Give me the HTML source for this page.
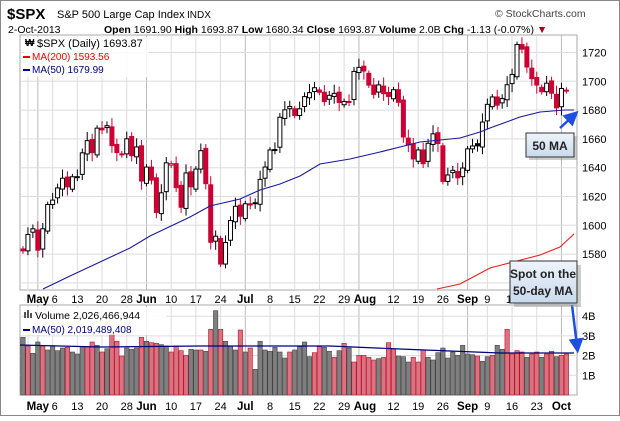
<!DOCTYPE html>
<html><head><meta charset="utf-8"><style>
html,body{margin:0;padding:0;background:#fff;}
body{width:620px;height:416px;overflow:hidden;font-family:"Liberation Sans",sans-serif;}
</style></head><body>
<svg id="s" width="620" height="416" xmlns="http://www.w3.org/2000/svg" font-family="Liberation Sans, sans-serif">
<defs>
<linearGradient id="cg" x1="0" y1="0" x2="0" y2="1"><stop offset="0" stop-color="#eef4fb"/><stop offset="1" stop-color="#c9d9ec"/></linearGradient>
<marker id="ah" markerWidth="6" markerHeight="6" refX="3" refY="3" orient="auto"><path d="M0,0 L6,3 L0,6 z" fill="#1f4fe0"/></marker>
</defs>
<rect x="0.5" y="0.5" width="619" height="415" fill="#fff" stroke="#888"/>
<text x="7" y="19" font-size="15" font-weight="bold">$SPX</text>
<text x="57" y="18" font-size="11">S&amp;P 500 Large Cap Index</text>
<text x="187" y="18" font-size="10">INDX</text>
<text x="495" y="17" font-size="10.5" fill="#444">© StockCharts.com</text>
<text x="8" y="33" font-size="10.5">2-Oct-2013</text>
<text x="104" y="33" font-size="10.5"><tspan font-weight="bold">Open</tspan> 1691.90 <tspan font-weight="bold">High</tspan> 1693.87 <tspan font-weight="bold">Low</tspan> 1680.34 <tspan font-weight="bold">Close</tspan> 1693.87 <tspan font-weight="bold">Volume</tspan> 2.0B <tspan font-weight="bold">Chg</tspan> -1.13 (-0.07%) <tspan fill="#a00020">▼</tspan></text>
<g id="g"></g>
</svg>
<script>
var C=[1582.24,1593.61,1597.57,1582.70,1597.59,1614.42,1617.50,1625.96,1632.69,1626.67,1633.70,1633.77,1650.34,1658.78,1650.47,1667.47,1666.29,1669.16,1655.35,1650.51,1649.60,1660.06,1648.36,1654.41,1630.74,
1640.42,1631.38,1608.90,1622.56,1643.38,1642.81,1626.13,1612.52,1636.36,1626.73,1639.04,1651.81,1628.93,1588.19,1592.43,1573.09,1588.03,1603.26,1613.20,1606.28,
1614.96,1614.08,1615.41,1631.89,1640.46,1652.32,1652.62,1675.02,1680.19,1682.50,1676.26,1680.91,1689.37,1692.09,1695.53,1692.39,1685.94,1690.25,1691.65,1685.33,1685.96,1685.73,
1706.87,1709.67,1707.14,1697.37,1690.91,1697.48,1691.42,1689.47,1694.16,1685.39,1661.32,1655.83,1646.06,1652.35,1642.80,1656.96,1663.50,1656.78,1630.48,1634.96,1638.17,1632.97,
1639.77,1653.08,1655.08,1655.17,1671.71,1683.99,1689.13,1683.42,1687.99,1697.60,1704.76,1725.52,1722.34,1709.91,1701.84,1697.42,1692.77,1698.67,1691.75,1681.55,1695.00,1693.87];
var V=[[172,'g'],[198,'r'],[220,'g'],[186,'g'],[198,'r'],[210,'g'],[198,'g'],[212,'g'],[204,'g'],[202,'r'],[216,'g'],[222,'g'],[200,'g'],[200,'r'],[186,'r'],[196,'g'],[216,'r'],[206,'g'],[162,'r'],[184,'r'],[228,'r'],[204,'g'],[208,'g'],[204,'g'],[172,'r'],[184,'g'],[188,'r'],[190,'r'],[194,'g'],[198,'g'],[216,'r'],[198,'r'],[212,'r'],[226,'r'],[208,'g'],[210,'g'],[210,'r'],[214,'g'],[148,'r'],[92,'g'],[148,'r'],[184,'g'],[198,'g'],[210,'g'],[150,'r'],[216,'g'],[204,'r'],[268,'g'],[184,'g'],[210,'g'],[214,'g'],[202,'g'],[216,'g'],[234,'g'],[216,'r'],[210,'g'],[200,'g'],[186,'g'],[230,'g'],[218,'r'],[200,'r'],[202,'g'],[214,'g'],[232,'r'],[212,'g'],[190,'r'],[204,'g'],[246,'r'],[226,'r'],[226,'r'],[232,'r'],[240,'r'],[236,'g'],[232,'r'],[188,'r'],[206,'r'],[228,'g'],[230,'g'],[246,'g'],[232,'r'],[246,'r'],[210,'r'],[232,'g'],[240,'g'],[218,'g'],[204,'g'],[234,'g'],[216,'g'],[226,'g'],[196,'g'],[222,'g'],[224,'g'],[228,'r'],[244,'g'],[230,'g'],[226,'r'],[196,'g'],[208,'g'],[148,'r'],[222,'r'],[212,'r'],[216,'r'],[232,'g'],[222,'r'],[216,'r'],[232,'g'],[222,'r'],[214,'r'],[230,'g'],[226,'r'],[222,'r']];
var g=document.getElementById('g'),h='';
function X(i){return 23+i*4.94;}
function Y(p){return 52.5+(1720-p)*1.44;}
function VY(z){return 394-(342-z)/3;}
var L=20,R=577,PT=35,PB=290,VT=305,VB=395;
h+='<rect x="'+L+'" y="'+PT+'" width="'+(R-L)+'" height="'+(PB-PT)+'" fill="#fff" stroke="#aaa"/>';
h+='<rect x="'+L+'" y="'+VT+'" width="'+(R-L)+'" height="'+(VB-VT)+'" fill="#fff" stroke="#aaa"/>';
var wk=[[1,''],[6,'6'],[11,'13'],[16,'20'],[21,'28'],[30,'10'],[35,'17'],[40,'24'],[50,'8'],[55,'15'],[60,'22'],[65,'29'],[75,'12'],[80,'19'],[85,'26'],[94,'9'],[99,'16'],[104,'23']];
var mo=[[3,'May'],[25,'Jun'],[45,'Jul'],[68,'Aug'],[90,'Sep'],[109,'Oct']];
wk.forEach(function(w){var x=X(w[0]);h+='<line x1="'+x+'" y1="'+PT+'" x2="'+x+'" y2="'+PB+'" stroke="#ddd"/><line x1="'+x+'" y1="'+VT+'" x2="'+x+'" y2="'+VB+'" stroke="#ddd"/>';});
mo.forEach(function(m){var x=X(m[0]);h+='<line x1="'+x+'" y1="'+PT+'" x2="'+x+'" y2="'+PB+'" stroke="#bbb"/><line x1="'+x+'" y1="'+VT+'" x2="'+x+'" y2="'+VB+'" stroke="#bbb"/>';});
for(var p=1580;p<=1720;p+=20){var y=Y(p);h+='<line x1="'+L+'" y1="'+y+'" x2="'+R+'" y2="'+y+'" stroke="#ddd"/><text x="582" y="'+(y+4)+'" font-size="11">'+p+'</text>';}
h+='<line x1="'+L+'" y1="'+Y(1560)+'" x2="'+R+'" y2="'+Y(1560)+'" stroke="#ddd"/>';
for(var b=1;b<=4;b++){var y=VB-b*19.7;h+='<line x1="'+L+'" y1="'+y+'" x2="'+R+'" y2="'+y+'" stroke="#ddd"/><text x="582" y="'+(y+4)+'" font-size="11">'+b+'B</text>';}
[303,410].forEach(function(ty){
wk.forEach(function(w){if(w[1]){var x=X(w[0]);if(w[1]=='6')x+=2;h+='<text x="'+x+'" y="'+ty+'" font-size="11" text-anchor="middle">'+w[1]+'</text>';}});
mo.forEach(function(m){var x=X(m[0]);if(m[1]=='Aug')x+=6;h+='<text x="'+x+'" y="'+ty+'" font-size="11.5" font-weight="bold" text-anchor="middle">'+m[1]+'</text>';});});
for(var i=0;i<V.length&&i<C.length;i++){var x=X(i),y=VY(V[i][0]);var col=V[i][1]=='r'?'#d8737f':'#7f7f7f',st=V[i][1]=='r'?'#c0102f':'#444';
h+='<rect x="'+(x-2.2)+'" y="'+y+'" width="4.4" height="'+(VB-y)+'" fill="'+col+'" stroke="'+st+'" stroke-width="0.6"/>';}
h+='<polyline fill="none" stroke="#000080" stroke-width="1.2" points="20,345 100,347 200,346 260,346 330,346 400,349 450,351 500,353 560,353 574,353"/>';
for(var i=0;i<C.length;i++){var c=C[i],pc=i?C[i-1]:1585.16,o=pc+((i*7)%5-2)*0.8;var up=c>=o;var hi=Math.max(o,c)+2+(i*13%5),lo=Math.min(o,c)-2-(i*11%5);
var down=c<pc;var col=down?'#cc0033':'#000';var x=X(i);var yt=Y(Math.max(o,c)),yb=Y(Math.min(o,c));if(yb-yt<1)yb=yt+1;
h+='<line x1="'+x+'" y1="'+Y(hi)+'" x2="'+x+'" y2="'+Y(lo)+'" stroke="'+col+'" stroke-width="1"/>';
h+='<rect x="'+(x-2)+'" y="'+yt+'" width="4" height="'+(yb-yt)+'" fill="'+(up?'#fff':col)+'" stroke="'+col+'" stroke-width="1"/>';}
h+='<polyline fill="none" stroke="#1a1a9a" stroke-width="1.1" points="43,289 70,276 100,262 130,248 150,236 190,217 210,206 240,199 260,190 280,184 300,176 320,164 350,159 380,152 400,147 420,142 440,140 460,138 480,132 490,128 520,117 540,112 565,110 574,110"/>';
h+='<polyline fill="none" stroke="#e8201e" stroke-width="1.1" points="437,289 460,284 490,268 540,255 560,247 574,234"/>';
h+='<rect x="24" y="37" width="125" height="40" fill="#fff" opacity="0.85"/>';
h+='<text x="25" y="46" font-size="10" font-weight="bold">₩</text><text x="37" y="47" font-size="11">$SPX (Daily) 1693.87</text>';
h+='<line x1="23" y1="57" x2="30" y2="57" stroke="#e00" stroke-width="2"/><text x="32" y="60" font-size="10" fill="#e00">MA(200) 1593.56</text>';
h+='<line x1="23" y1="70" x2="30" y2="70" stroke="#000080" stroke-width="2"/><text x="32" y="73" font-size="10" fill="#000080">MA(50) 1679.99</text>';
h+='<rect x="24" y="307" width="142" height="28" fill="#fff" opacity="0.85"/>';
h+='<rect x="24" y="312" width="2" height="6" fill="#555"/><rect x="27" y="310" width="2" height="8" fill="#555"/><rect x="30" y="313" width="2" height="5" fill="#555"/>';
h+='<text x="35" y="319" font-size="10.5">Volume 2,026,466,944</text>';
h+='<line x1="23" y1="330" x2="30" y2="330" stroke="#000080" stroke-width="2"/><text x="32" y="333" font-size="10" fill="#000080">MA(50) 2,019,489,408</text>';
h+='<line x1="560" y1="128" x2="573" y2="116" stroke="#1f4fe0" stroke-width="2.5" marker-end="url(#ah)"/>';
h+='<rect x="529" y="136" width="48" height="24" fill="#999" opacity="0.5"/><rect x="526" y="133" width="48" height="24" fill="url(#cg)" stroke="#333"/>';
h+='<text x="550" y="150" font-size="12" font-weight="bold" text-anchor="middle" fill="#222">50 MA</text>';
h+='<line x1="572" y1="305" x2="577" y2="346" stroke="#1f4fe0" stroke-width="2.5" marker-end="url(#ah)"/>';
h+='<rect x="514" y="265" width="67" height="42" fill="#999" opacity="0.5"/><rect x="510" y="261" width="67" height="42" fill="url(#cg)" stroke="#333"/>';
h+='<text x="543" y="278" font-size="12" font-weight="bold" text-anchor="middle" fill="#222">Spot on the</text>';
h+='<text x="543" y="295" font-size="12" font-weight="bold" text-anchor="middle" fill="#222">50-day MA</text>';
g.innerHTML=h;
</script>
</body></html>
